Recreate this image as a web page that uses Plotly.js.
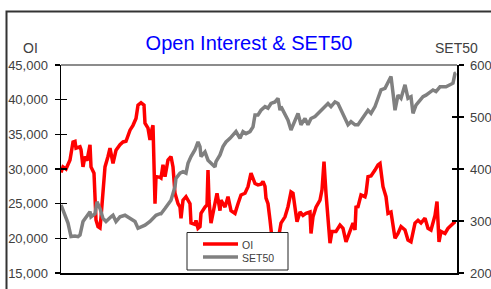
<!DOCTYPE html>
<html>
<head>
<meta charset="utf-8">
<script src="https://cdn.plot.ly/plotly-3.0.1.min.js"></script>
<style>html,body{margin:0;padding:0;background:#fff;}#chart{width:491px;height:289px;}</style>
</head>
<body>
<div id="chart"></div>
<script>
// Trading-day index (approximate) and Open Interest values
const oiDay = [0,2,5,9,12,14,15,19,20,22,24,26,29,30,33,34,35,37,39,40,42,44,47,49,52,55,59,62,65,69,72,75,77,80,83,84,87,89,91,92,94,95,99,100,102,104,107,110,112,114,117,119,120,122,125,129,130,134,135,137,139,140,144,146,147,148,150,152,154,156,159,160,164,167,170,174,177,180,184,187,190,194,197,200,202,204,205,207,209,211,215,218,220,224,227,230,232,234,236,239,242,245,249,250,252,255,259,261,263,265,267,269,271,275,279,282,285,289,292,294,295,297,300,304,305,307,310,314,317,319,320,322,325,327,330,332,334,337,340,344,347,350,354,357,360,364,367,370,374,376,378,380,384,387,390,394,395];
const oiVal = [29500,30300,30000,31300,33900,34000,33000,33200,32800,30300,31800,31200,33500,30300,29400,26000,22640,21700,21500,23000,26500,30300,31800,33000,30800,32700,33500,33900,34000,35600,36300,37300,39200,39560,39200,36600,35900,34200,35800,36300,25000,28900,28800,28700,30600,28900,31300,31800,30300,26500,25000,24500,22900,25500,26000,25000,22200,22000,22600,21450,21700,23600,24500,24800,29850,25500,22200,23600,25500,26500,24000,25500,24500,26000,24000,23600,25000,26250,26500,27450,29400,27900,27700,27800,28200,27500,25800,25000,22640,20000,19500,20500,22200,23100,24560,26700,26500,24000,22400,23800,23300,23600,23800,20700,23100,24500,25500,27000,31050,26500,23100,19300,21000,21000,21900,21450,19500,21200,22200,21200,24500,24560,26250,26000,26500,28900,29000,29850,30600,30800,29850,27450,26000,23600,23800,21700,20000,20700,21700,21200,19760,19500,22200,22600,22200,22900,21450,21200,23300,25300,19500,21000,20700,21450,21900,22400,22400];
// Trading-day index (approximate) and SET50 index values
const setDay = [0,4,7,10,14,17,19,22,25,29,30,34,36,39,42,45,50,52,55,59,64,69,74,77,80,84,89,92,95,99,100,104,107,110,114,115,119,122,125,127,130,134,137,139,140,144,147,150,154,155,159,162,165,169,172,175,179,182,185,189,192,194,197,200,204,207,210,214,217,219,220,224,227,230,234,237,240,244,247,250,254,257,260,264,267,270,274,277,280,284,287,290,294,297,300,304,307,310,314,317,320,324,327,330,332,334,337,340,344,347,350,352,355,359,362,365,369,372,375,379,382,385,389,392,394,395];
const setVal = [331,308,296,270,271,270,273,299,308,318,308,314,337,324,305,299,308,311,299,308,311,305,299,286,289,292,299,305,311,314,314,324,331,340,366,382,392,395,392,411,424,437,452,443,424,433,417,411,404,414,427,443,452,459,465,472,459,472,468,472,481,504,504,513,520,517,526,529,536,513,520,504,494,475,494,507,485,497,485,497,501,507,513,520,526,520,529,526,513,494,485,491,485,485,494,507,513,507,520,536,552,555,565,578,546,513,542,536,562,536,539,507,523,533,539,542,549,552,549,558,558,558,562,565,584,585];
const oiTicks = [15000,20000,25000,30000,35000,40000,45000];
const oiTickText = ['15,000','20,000','25,000','30,000','35,000','40,000','45,000'];
const setTicks = [200,300,400,500,600];
const setTickText = ['200','300','400','500','600'];
const seriesNames = ['OI', 'SET50'];
const seriesColors = ['#FF0000', '#808080'];

const W = 491, H = 289, L = 61, R = 457, T = 65, B = 273;
const px = x => (x - L) / (R - L);
const py = y => (B - y) / (B - T);
const FONT = 'Arial, Liberation Sans, sans-serif';
const tickFont = {family: FONT, size: 13, color: '#404040'};

const traces = [
  {x: oiDay, y: oiVal, name: seriesNames[0], type: 'scatter', mode: 'lines',
   line: {color: seriesColors[0], width: 3.5}, yaxis: 'y'},
  {x: setDay, y: setVal, name: seriesNames[1], type: 'scatter', mode: 'lines',
   line: {color: seriesColors[1], width: 3.5}, yaxis: 'y2'},
  {x: [], y: [], yaxis: 'y3', showlegend: false, hoverinfo: 'skip'},
  {x: [], y: [], yaxis: 'y4', showlegend: false, hoverinfo: 'skip'}
];

// legend box drawn with shapes/annotations (compact Excel-style legend)
const legX0 = 187, legX1 = 288, legY0 = 232.5, legY1 = 270;
const legRows = [244, 257];
const shapes = [
  {type: 'rect', xref: 'paper', yref: 'paper', x0: px(6.5), x1: px(520), y0: py(320), y1: py(11.5),
   line: {color: '#333', width: 2}, fillcolor: 'rgba(0,0,0,0)', layer: 'below'},
  {type: 'line', xref: 'paper', yref: 'paper', x0: 0, x1: 1, y0: 1, y1: 1, line: {color: '#666', width: 1.5}},
  {type: 'rect', xref: 'paper', yref: 'paper', x0: px(legX0), x1: px(legX1), y0: py(legY1), y1: py(legY0),
   line: {color: '#222', width: 1}, fillcolor: '#ffffff', layer: 'above'}
];
const annotations = [
  {text: 'OI', xref: 'paper', yref: 'paper', x: px(30.5), y: py(48.5), xanchor: 'center', yanchor: 'middle',
   showarrow: false, font: {family: FONT, size: 14, color: '#404040'}},
  {text: 'SET50', xref: 'paper', yref: 'paper', x: px(456), y: py(48.5), xanchor: 'center', yanchor: 'middle',
   showarrow: false, font: {family: FONT, size: 14, color: '#404040'}}
];
seriesNames.forEach((nm, i) => {
  shapes.push({type: 'line', xref: 'paper', yref: 'paper', x0: px(203), x1: px(238), y0: py(legRows[i]), y1: py(legRows[i]),
               line: {color: seriesColors[i], width: 3.5}, layer: 'above'});
  annotations.push({text: nm, xref: 'paper', yref: 'paper', x: px(240), y: py(legRows[i] + 0.5), xanchor: 'left', yanchor: 'middle',
                    showarrow: false, font: {family: FONT, size: 10.5, color: '#404040'}});
});

const layout = {
  width: W, height: H,
  margin: {l: L, r: W - R, t: T, b: H - B, pad: 0, autoexpand: false},
  paper_bgcolor: '#ffffff', plot_bgcolor: '#ffffff',
  font: {family: FONT, color: '#404040'},
  title: {text: 'Open Interest & SET50', font: {family: FONT, size: 20, color: '#0000FF'},
          xref: 'paper', x: px(249), xanchor: 'center', yref: 'container', y: 1 - 42.5 / H, yanchor: 'middle'},
  showlegend: false,
  xaxis: {range: [0, 396], showgrid: false, zeroline: false, showticklabels: false, ticks: '',
          showline: true, linecolor: '#000', linewidth: 1.5},
  yaxis: {range: [15000, 45000], tickvals: oiTicks, ticktext: oiTickText, ticks: 'outside', ticklen: 5,
          tickcolor: '#000', tickwidth: 1.2, showgrid: false, zeroline: false, showline: true,
          linecolor: '#000', linewidth: 1.5, tickfont: tickFont, ticklabelstandoff: 4},
  yaxis2: {range: [200, 600], tickvals: setTicks, ticktext: setTickText, overlaying: 'y', side: 'right',
           ticks: 'outside', ticklen: 5, tickcolor: '#000', tickwidth: 1.2, showgrid: false, zeroline: false,
           showline: true, linecolor: '#000', linewidth: 1.5, tickfont: tickFont, ticklabelstandoff: 4},
  yaxis3: {range: [15000, 45000], tickvals: oiTicks, overlaying: 'y', side: 'left', ticks: 'inside', ticklen: 6,
           tickcolor: '#000', tickwidth: 1.2, showticklabels: false, showgrid: false, zeroline: false, showline: false},
  yaxis4: {range: [200, 600], tickvals: setTicks, overlaying: 'y', side: 'right', ticks: 'inside', ticklen: 5,
           tickcolor: '#000', tickwidth: 1.2, showticklabels: false, showgrid: false, zeroline: false, showline: false},
  shapes: shapes,
  annotations: annotations
};

Plotly.newPlot('chart', traces, layout, {staticPlot: true, displayModeBar: false});
</script>
</body>
</html>
